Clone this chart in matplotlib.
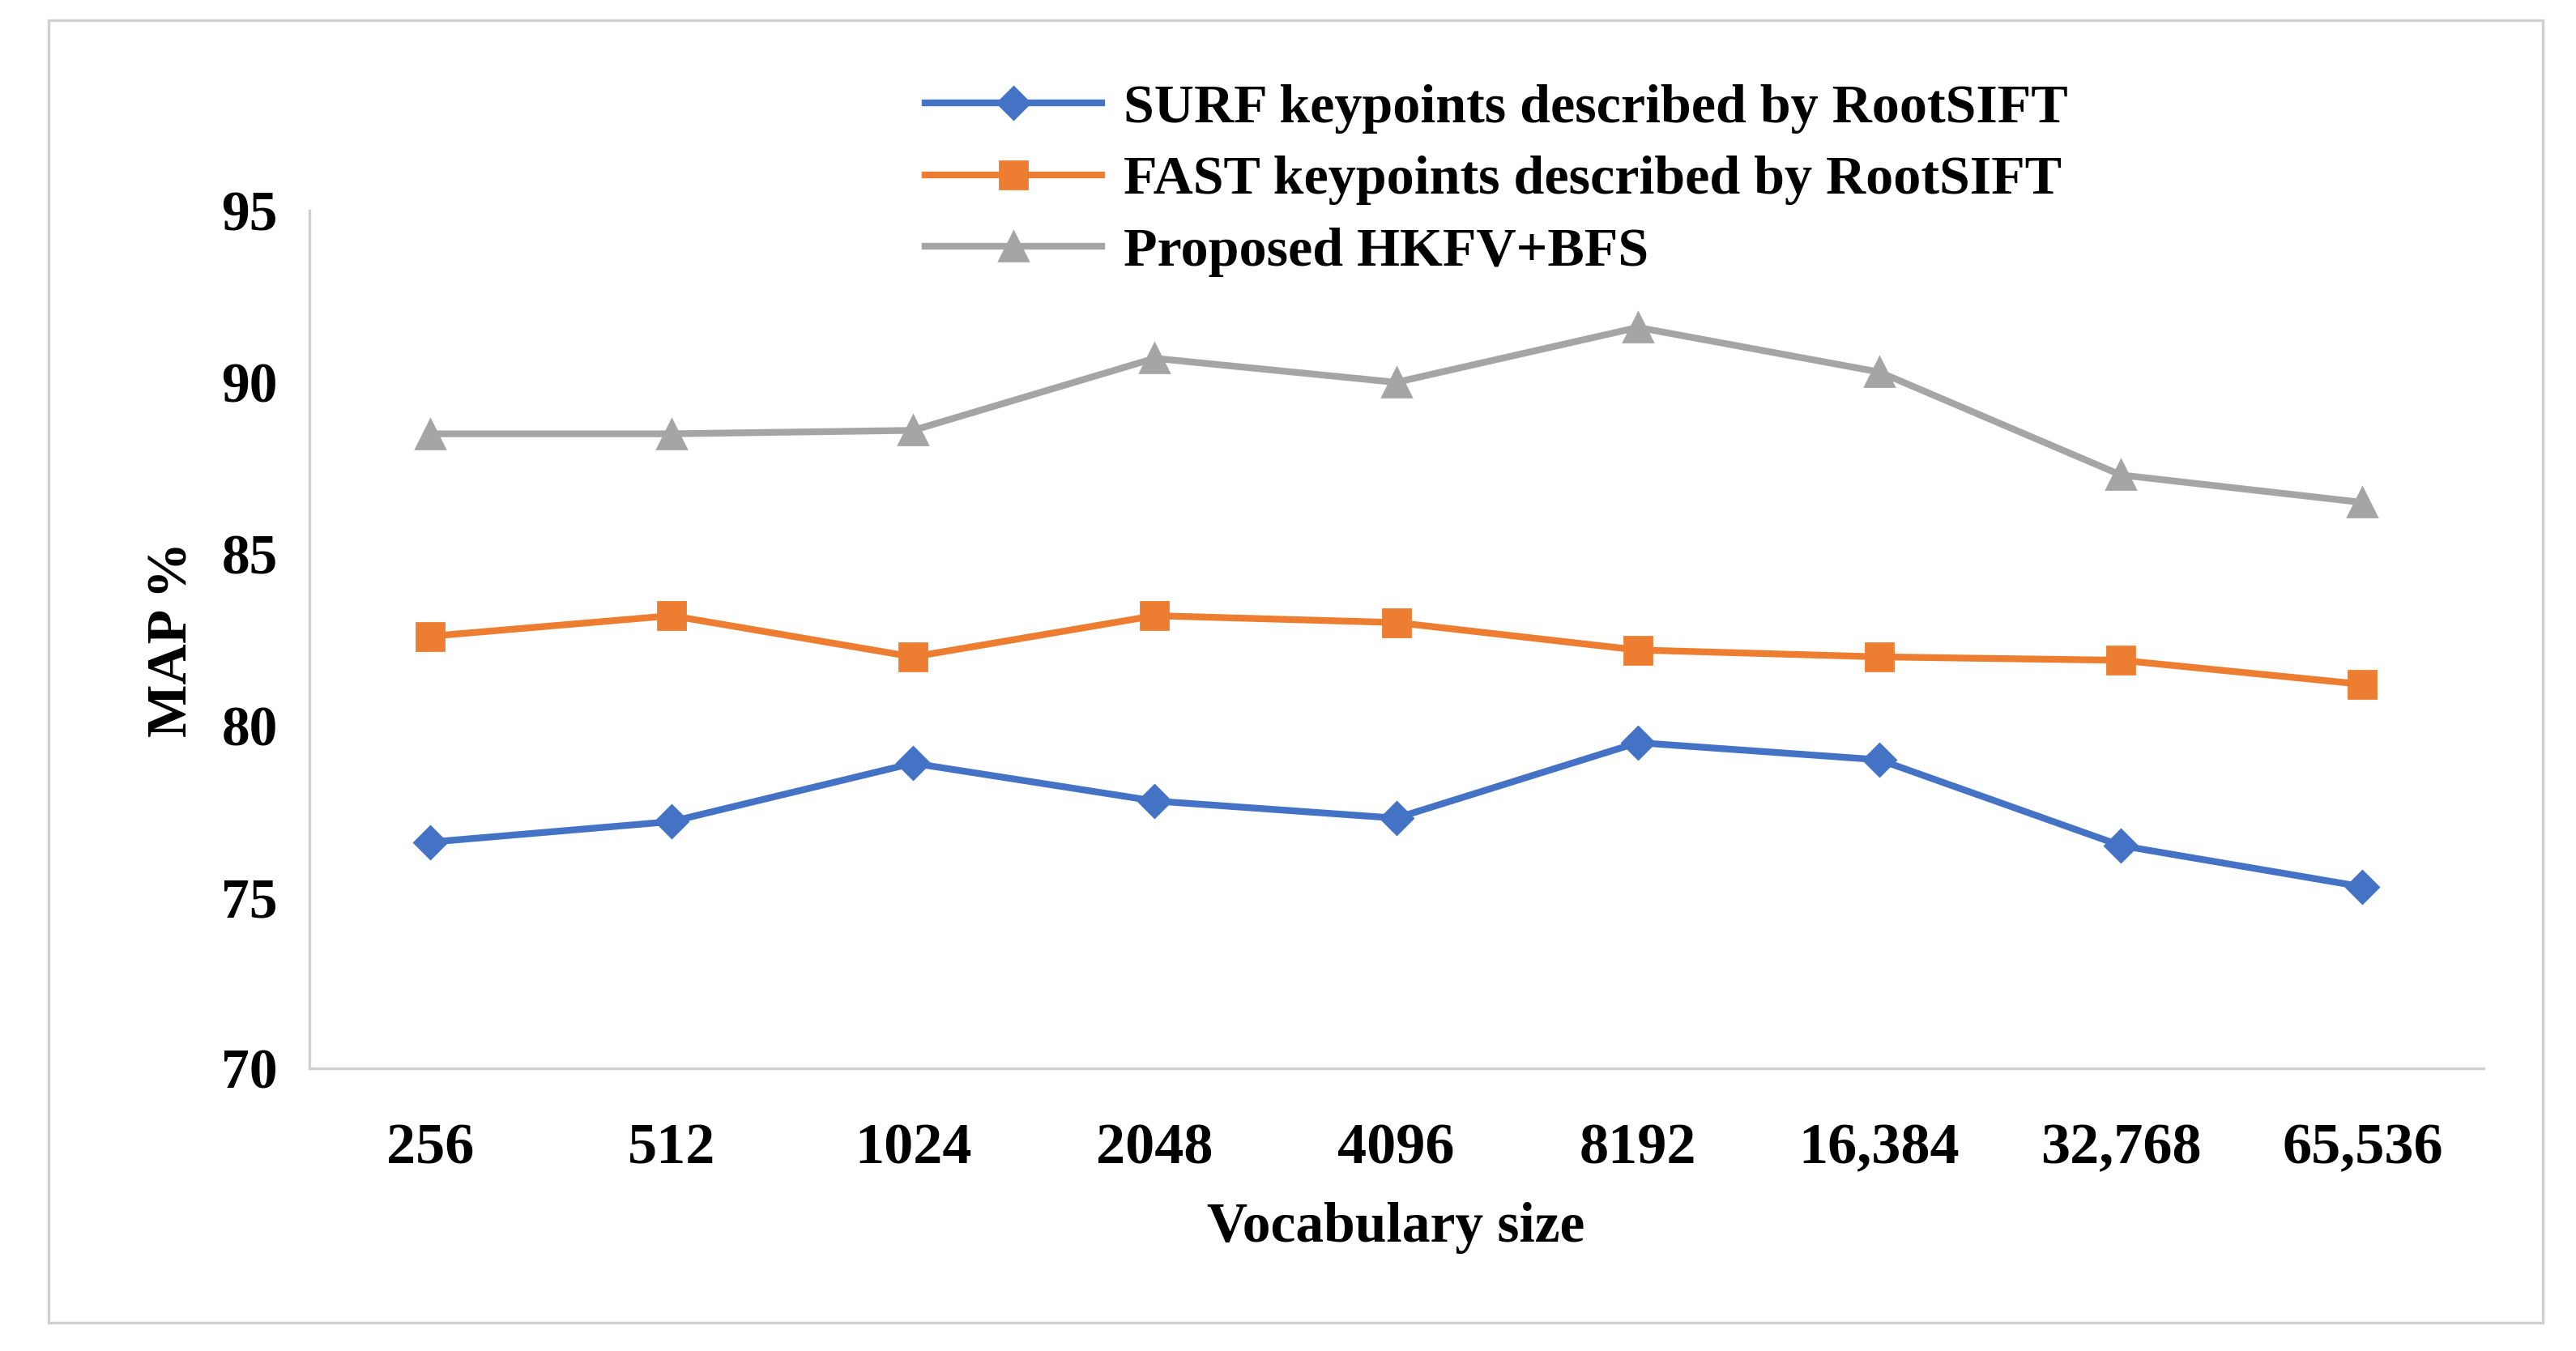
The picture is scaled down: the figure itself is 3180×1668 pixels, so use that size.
import matplotlib
matplotlib.use("Agg")
import matplotlib.pyplot as plt
from matplotlib.patches import Rectangle

categories = ["256", "512", "1024", "2048", "4096", "8192", "16,384", "32,768", "65,536"]
surf = [76.6, 77.2, 78.9, 77.8, 77.3, 79.5, 79.0, 76.5, 75.3]
fast = [82.6, 83.2, 82.0, 83.2, 83.0, 82.2, 82.0, 81.9, 81.2]
proposed = [88.5, 88.5, 88.6, 90.7, 90.0, 91.6, 90.3, 87.3, 86.5]
yticks = [70, 75, 80, 85, 90, 95]

plt.rcParams['font.family'] = ['Liberation Serif', 'DejaVu Serif']
plt.rcParams['font.weight'] = 'bold'
fig = plt.figure(figsize=(15.9, 8.34), dpi=200)
fig.patches.append(Rectangle((0.019, 0.021), 0.968, 0.964, transform=fig.transFigure,
                             fill=False, edgecolor='#d0d0d0', linewidth=1.2))
ax = fig.add_axes([0.12, 0.209, 0.844, 0.635])
x = list(range(len(categories)))
ax.plot(x, surf, color='#4472C4', lw=3, marker='D', ms=10, label='SURF keypoints described by RootSIFT')
ax.plot(x, fast, color='#ED7D31', lw=3, marker='s', ms=12, label='FAST keypoints described by RootSIFT')
ax.plot(x, proposed, color='#A5A5A5', lw=3, marker='^', ms=13, label='Proposed HKFV+BFS')
ax.set_xlim(-0.5, len(categories) - 0.5)
ax.set_ylim(70, 95)
ax.set_yticks(yticks)
ax.set_xticks(x)
ax.set_xticklabels([" ".join(c) if False else c for c in categories])
ax.tick_params(axis='y', length=0, labelsize=25, pad=14)
ax.tick_params(axis='x', length=0, labelsize=26, pad=24)
for lab in ax.get_xticklabels() + ax.get_yticklabels():
    lab.set_fontweight('bold')
for s in ['top', 'right']:
    ax.spines[s].set_visible(False)
for s in ['left', 'bottom']:
    ax.spines[s].set_color('#d0d0d0')
    ax.spines[s].set_linewidth(1.2)
ax.set_xlabel('Vocabulary size', fontsize=25, fontweight='bold', labelpad=12)
ax.set_ylabel('MAP %', fontsize=25, fontweight='bold', labelpad=10)
fig.legend(loc='upper left', bbox_to_anchor=(0.34, 0.975), frameon=False,
           prop={'size': 24.5, 'weight': 'bold'}, handlelength=3.2, labelspacing=0.4,
           handletextpad=0.4)
fig.savefig('out.png', dpi=200, facecolor='white')
